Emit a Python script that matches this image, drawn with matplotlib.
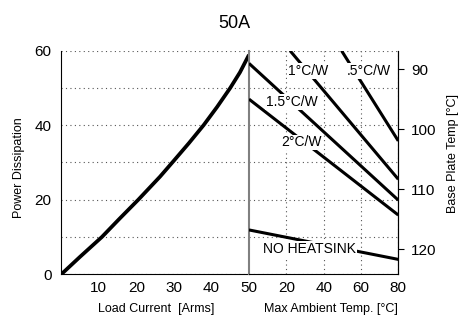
import matplotlib
matplotlib.use("Agg")
import matplotlib.pyplot as plt

plt.rcParams['font.family'] = ['Liberation Sans', 'DejaVu Sans']

# ---- data ----
title = "50A"
load_current = [0, 5, 10.8, 15.5, 20.5, 26.3, 30, 34, 37.9, 41.5, 45, 47.6, 50]
power_diss = [0, 4.7, 10, 14.9, 20, 26.2, 30.5, 35.2, 40, 44.9, 50, 54.2, 58.9]

# derating lines: ambient temperature [°C] vs allowed power [W]
amb_05 = [49.6, 80]
pow_05 = [60.0, 35.8]
amb_1 = [22.0, 80]
pow_1 = [60.0, 25.5]
amb_15 = [0, 80]
pow_15 = [56.6, 19.9]
amb_2 = [0, 80]
pow_2 = [47.0, 15.9]
amb_nohs = [0, 80]
pow_nohs = [11.9, 4.0]

line_labels = [".5°C/W", "1°C/W", "1.5°C/W", "2°C/W", "NO HEATSINK"]
label_pos_amb = [64.4, 31.7, 22.8, 28.3, 32.4]
label_pos_pow = [54.6, 54.6, 46.2, 35.4, 6.8]

left_xticks = [10, 20, 30, 40, 50]
right_xticks = [20, 40, 60, 80]
p_ticks = [0, 20, 40, 60]
p_minor = [10, 30, 50]
base_ticks = [90, 100, 110, 120]
base_lim = (124.2, 86.9)

# ---- figure ----
fig = plt.figure(figsize=(4.69, 3.16), dpi=100)
L, B, H = 0.1307, 0.132, 0.7076
W1 = 0.4002
W2 = 0.3183
ax1 = fig.add_axes([L, B, W1, H])
ax2 = fig.add_axes([L + W1, B, W2, H])

grid_kw = dict(color='#555555', linestyle=(0, (1, 3)), linewidth=0.8)

# left axes
ax1.set_xlim(0, 50)
ax1.set_ylim(0, 60)
ax1.set_xticks(left_xticks)
ax1.set_yticks(p_ticks)
ax1.set_yticks(p_minor, minor=True)
ax1.tick_params(axis='both', which='both', length=0, labelsize=11)
ax1.tick_params(axis='y', pad=7)
ax1.tick_params(axis='x', pad=5)
ax1.yaxis.grid(True, which='both', **grid_kw)
ax1.set_xticks([10, 20, 30, 40], minor=True)
ax1.xaxis.grid(True, which='minor', **grid_kw)
ax1.spines['top'].set_visible(False)
ax1.spines['right'].set_visible(False)
ax1.plot(load_current, power_diss, color='black', lw=2.7, solid_capstyle='butt',
         solid_joinstyle='round', zorder=3)
ax1.set_xlabel("Load Current  [Arms]", fontsize=9)
ax1.set_ylabel("Power Dissipation", fontsize=9)
ax1.yaxis.set_label_coords(-0.195, 0.478)
ax1.xaxis.set_label_coords(0.505, -0.13)

# right axes
ax2.set_xlim(0, 80)
ax2.set_ylim(0, 60)
ax2.set_xticks(right_xticks)
ax2.set_yticks(p_ticks)
ax2.set_yticks(p_minor, minor=True)
ax2.tick_params(axis='both', which='both', length=0, labelsize=11)
ax2.tick_params(axis='x', pad=5)
ax2.set_yticklabels([])
ax2.yaxis.grid(True, which='both', **grid_kw)
ax2.xaxis.grid(True, which='major', **grid_kw)
ax2.spines['top'].set_visible(False)
ax2.spines['left'].set_color('#808080')
ax2.spines['left'].set_linewidth(1.5)
ax2.set_xlabel("Max Ambient Temp. [°C]", fontsize=9)
ax2.xaxis.set_label_coords(0.548, -0.13)

for xs, ys in [(amb_05, pow_05), (amb_1, pow_1), (amb_15, pow_15),
               (amb_2, pow_2), (amb_nohs, pow_nohs)]:
    ax2.plot(xs, ys, color='black', lw=2.2, solid_capstyle='butt', zorder=3)

for txt, xa, yp in zip(line_labels, label_pos_amb, label_pos_pow):
    ax2.text(xa, yp, txt, fontsize=10, ha='center', va='center', zorder=4,
             bbox=dict(facecolor='white', edgecolor='none', pad=0.6))

# base plate temperature axis
ax3 = ax2.twinx()
ax3.set_ylim(*base_lim)
ax3.set_yticks(base_ticks)
ax3.tick_params(axis='y', length=4, width=0.8, pad=5, labelsize=11, direction='out')
for s in ['left', 'top', 'bottom']:
    ax3.spines[s].set_visible(False)
ax3.set_ylabel("Base Plate Temp [°C]", fontsize=9)
ax3.yaxis.set_label_coords(1.325, 0.538)

fig.text(0.5, 1 - 23.3 / 316, title, fontsize=13, ha='center', va='center')

fig.savefig("out.png", dpi=100)
